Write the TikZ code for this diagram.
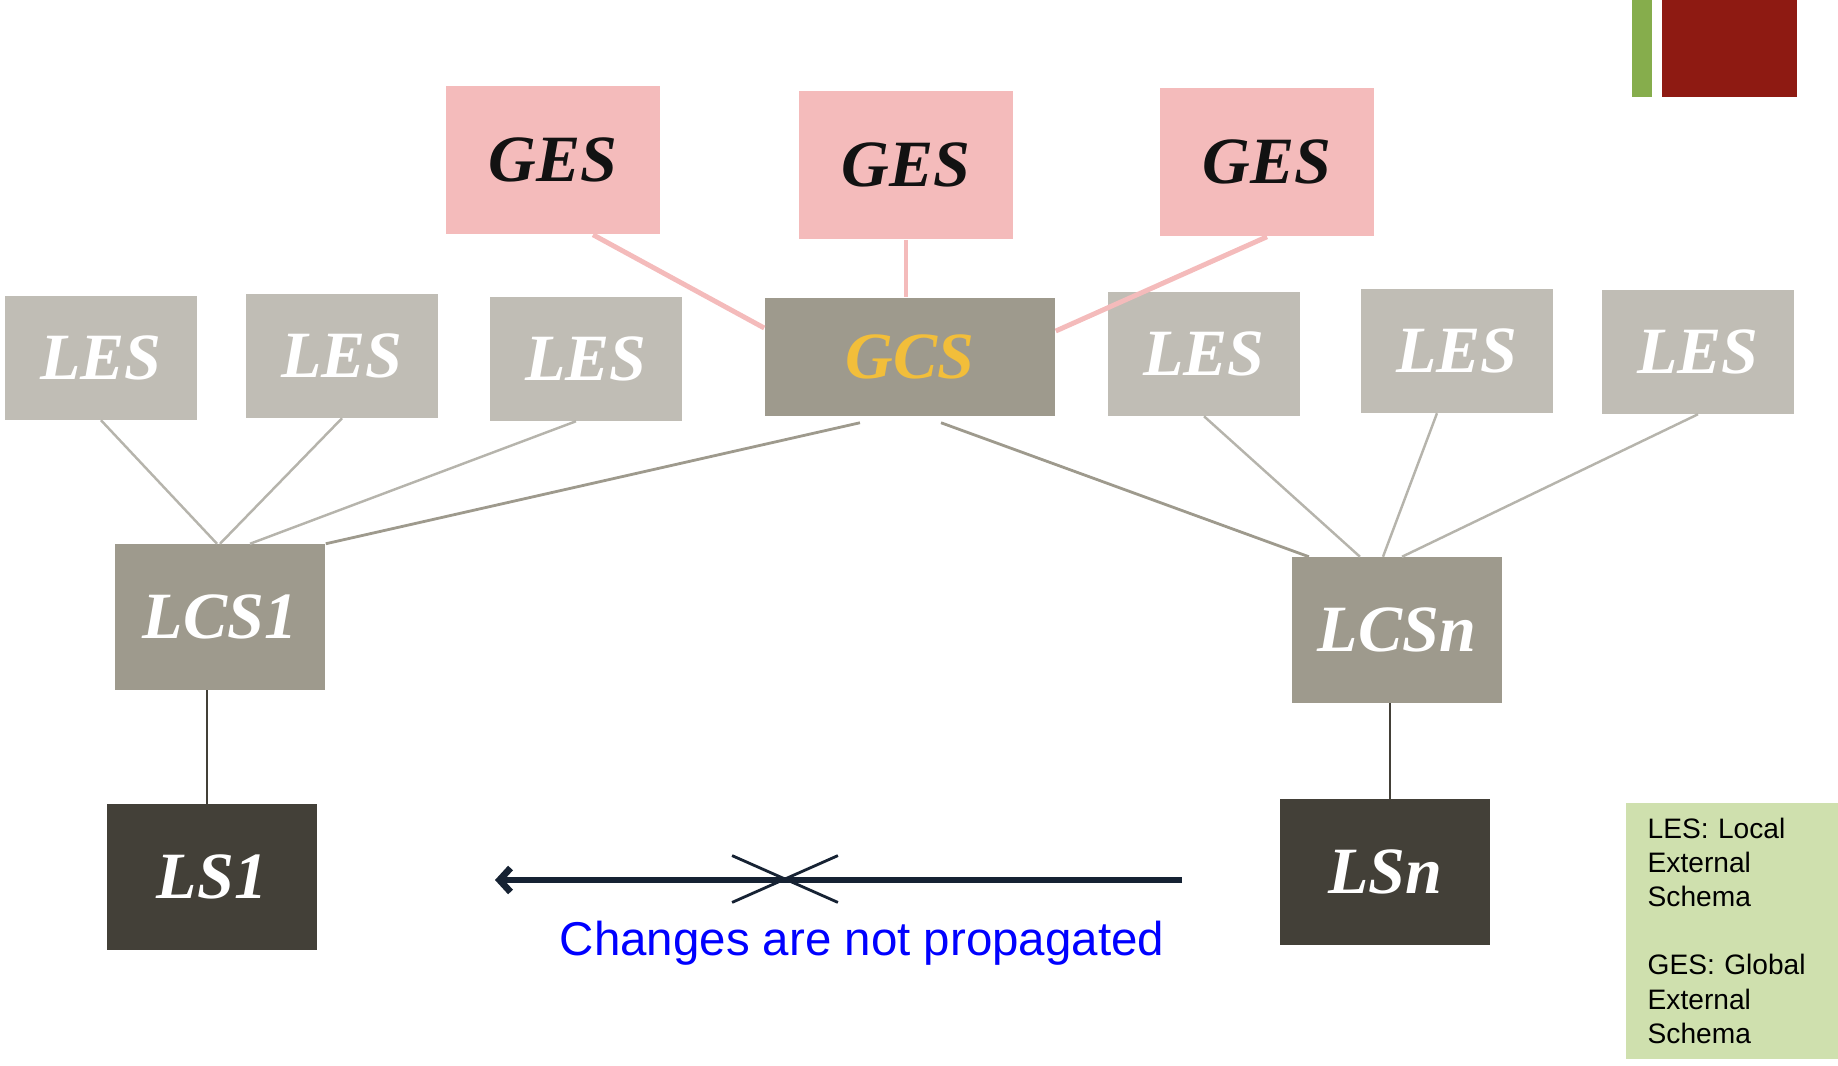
\documentclass[tikz,border=0pt]{standalone}
\usepackage{fontspec}
\setmainfont{Liberation Serif}
\setsansfont{Liberation Sans}
\usetikzlibrary{arrows.meta}
\usetikzlibrary{shapes.misc}

\definecolor{gespink}{HTML}{F4BBBB}
\definecolor{lesgray}{HTML}{C0BDB5}
\definecolor{lcsgray}{HTML}{9E9A8D}
\definecolor{lsdark}{HTML}{434038}
\definecolor{gcsgold}{HTML}{F2BE3A}
\definecolor{barred}{HTML}{8E1A12}
\definecolor{bargreen}{HTML}{86AD4C}
\definecolor{notegreen}{HTML}{CFE0AE}
\definecolor{arrownavy}{HTML}{162233}

\begin{document}
\begin{tikzpicture}[
            x=0.01cm, y=-0.01cm,
            schema/.style={inner sep=0pt, minimum width=1.92cm, minimum height=1.23cm,
                font=\fontsize{18.8}{22}\selectfont\bfseries\itshape},
            ges/.style={schema, fill=gespink, minimum width=2.13cm, minimum height=1.48cm, text=black!93},
            les/.style={schema, fill=lesgray, text=white},
            lcs/.style={schema, fill=lcsgray, minimum width=2.1cm, minimum height=1.45cm, text=white},
            ls/.style={schema, fill=lsdark, minimum width=2.1cm, minimum height=1.45cm, text=white},
            pinkline/.style={gespink, line width=1.4pt},
            lesline/.style={lesgray!95!black, line width=0.7pt},
            gcsline/.style={lcsgray, line width=0.8pt},
            lsline/.style={lsdark, line width=0.8pt}
            ]
            \useasboundingbox (0,0) rectangle (1838,1066);
            % corner bars
            \fill[bargreen] (1632,0) rectangle (1652,97);
            \fill[barred] (1662,0) rectangle (1797,97);
            % global external schemas
            \node[ges] (ges1) at (553,160) {GES};
            \node[ges] (ges2) at (906,165) {GES};
            \node[ges] (ges3) at (1267,162) {GES};
            % local external schemas and global conceptual schema
            \node[les] (les1) at (101,358) {LES};
            \node[les] (les2) at (342,356) {LES};
            \node[les] (les3) at (586,359) {LES};
            \node[schema, fill=lcsgray, minimum width=2.9cm, minimum height=1.18cm, text=gcsgold] (gcs) at (910,357) {GCS};
            \node[les] (les4) at (1204,354) {LES};
            \node[les] (les5) at (1457,351) {LES};
            \node[les] (les6) at (1698,352) {LES};
            % local conceptual and local schemas
            \node[lcs] (lcs1) at (220,617) {LCS1};
            \node[lcs] (lcsn) at (1397,630) {LCSn};
            \node[ls] (ls1) at (212,877) {LS1};
            \node[ls] (lsn) at (1385,872) {LSn};
            % links
            \draw[pinkline] ([xshift=0.4cm]ges1.south) -- ([yshift=0.29cm]gcs.west);
            \draw[pinkline] (ges2.south) -- (ges2.south |- gcs.north);
            \draw[pinkline] (ges3.south) -- ([yshift=0.26cm]gcs.east);
            \draw[lesline] (les1.south) -- ([xshift=-0.03cm]lcs1.north);
            \draw[lesline] (les2.south) -- (lcs1.north);
            \draw[lesline] ([xshift=-0.1cm]les3.south) -- ([xshift=0.3cm]lcs1.north);
            \draw[gcsline] ([xshift=-0.5cm,yshift=-0.06cm]gcs.south) -- (lcs1.north east);
            \draw[gcsline] ([xshift=0.31cm,yshift=-0.06cm]gcs.south) -- ([xshift=-0.88cm]lcsn.north);
            \draw[lesline] (les4.south) -- ([xshift=-0.37cm]lcsn.north);
            \draw[lesline] ([xshift=-0.2cm]les5.south) -- ([xshift=-0.14cm]lcsn.north);
            \draw[lesline] (les6.south) -- ([xshift=0.05cm]lcsn.north);
            \draw[lsline] ([xshift=-0.05cm]ls1.north) -- ([xshift=-0.05cm]ls1.north |- lcs1.south);
            \draw[lsline] ([xshift=0.05cm]lsn.north) -- ([xshift=0.05cm]lsn.north |- lcsn.south);
            % no propagation
            \coordinate (from) at (1182,880);
            \coordinate (to) at (495,880);
            \draw[arrownavy, line width=1.9pt, -{Straight Barb[length=0.11cm,width=0.24cm]}] (from) -- (to);
            \node[cross out, draw=arrownavy, line width=0.8pt, inner sep=0pt,
                minimum width=1.03cm, minimum height=0.44cm] (stop) at (785,879) {};
            \node[anchor=base, text=blue, font=\sffamily\fontsize{13.5}{16}\selectfont] (note) at (862,955) {Changes are not propagated};
            % legend
            \node[fill=notegreen, anchor=north west, minimum width=2.13cm, minimum height=2.56cm,
                text width=1.69cm, inner xsep=0.21cm, align=left,
                font=\sffamily\fontsize{8}{9.7}\selectfont] (legend) at (1625,802)
                {LES: Local\\External\\Schema\\[9.7pt]GES: Global\\External\\Schema};
        \end{tikzpicture}
\end{document}
